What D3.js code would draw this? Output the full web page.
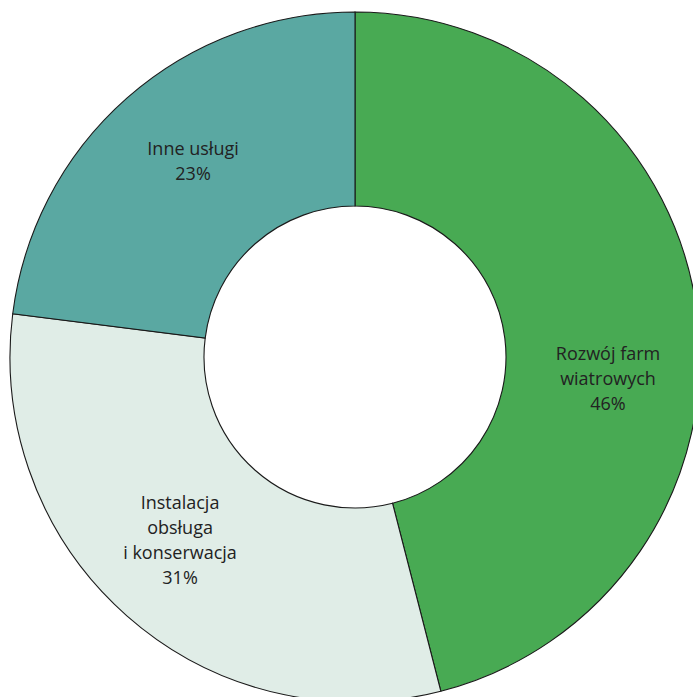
<!DOCTYPE html>
<html>
<head>
<meta charset="utf-8">
<script src="https://cdn.jsdelivr.net/npm/d3@7"></script>
<style>
html,body{margin:0;padding:0;background:#fff;}
svg{display:block;}
</style>
</head>
<body>
<script>
// Data
const categories = [["Rozwój farm", "wiatrowych"], ["Instalacja", "obsługa", "i konserwacja"], ["Inne usługi"]];
const values = [46, 31, 23];
const colors = ["#48AA53", "#E0EDE7", "#5AA8A2"];

const W = 693, H = 697;
const cx = 355, cy = 357, R = 345, r0 = 151;
// label adjustments (layout only)
const labelShift = [[1, 54], [-7, -7], [6, -5]];

const svg = d3.select("body").append("svg").attr("width", W).attr("height", H);
const g = svg.append("g").attr("transform", `translate(${cx},${cy})`);

const pie = d3.pie().sort(null).value(d => d)(values);
const arc = d3.arc().innerRadius(r0).outerRadius(R);
const labelArc = d3.arc().innerRadius(254).outerRadius(254);

g.selectAll("path.slice").data(pie).join("path")
  .attr("class", "slice")
  .attr("d", arc)
  .attr("fill", (d, i) => colors[i])
  .attr("stroke", "#1a1a1a")
  .attr("stroke-width", 1.1);

const lh = 25;
g.selectAll("text.lbl").data(pie).join("text")
  .attr("class", "lbl")
  .attr("font-family", "'Open Sans', sans-serif")
  .attr("font-size", 18)
  .attr("fill", "#222")
  .attr("text-anchor", "middle")
  .each(function(d, i) {
    const c = labelArc.centroid(d);
    const x = c[0] + labelShift[i][0], y = c[1] + labelShift[i][1];
    const lines = categories[i].concat([values[i] + "%"]);
    const n = lines.length;
    const t = d3.select(this);
    lines.forEach((s, k) => {
      t.append("tspan").attr("x", x)
        .attr("y", y + (k - (n - 1) / 2) * lh)
        .attr("dy", "0.35em")
        .text(s);
    });
  });
</script>
</body>
</html>
